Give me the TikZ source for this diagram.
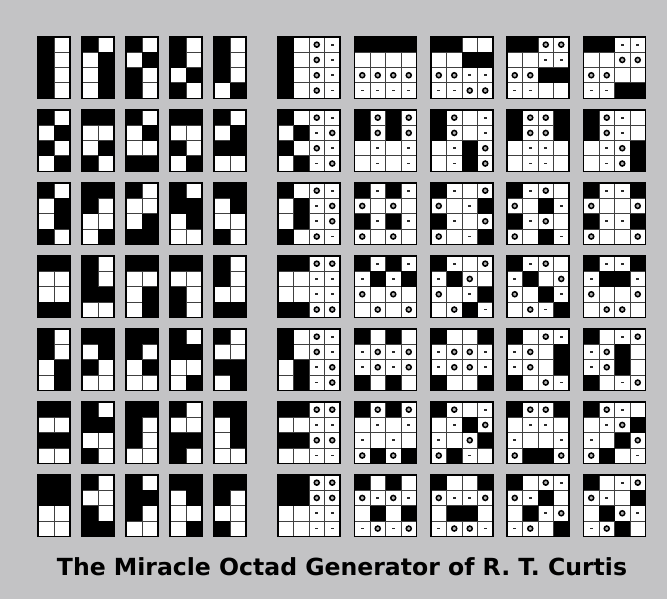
\documentclass[tikz,border=0pt]{standalone}
\usepackage{fontspec}
\usepackage{graphicx}
\newfontfamily\titlefont{DejaVu Sans}
\definecolor{bggray}{HTML}{C3C3C5}
\definecolor{gridgray}{HTML}{404040}
\definecolor{dotgray}{HTML}{2A2A2A}
\tikzset{
  cellblack/.style={fill=black},
  gridline/.style={draw=gridgray, line width=0.8pt},
  patframe/.style={draw=black, line width=1.2pt},
  ring/.style={draw=black, line width=1.5pt, fill=gray!60},
  dotmark/.style={fill=dotgray},
}
\def\mogch{15.3}
\newcommand\mogpat[5]{%
\begin{scope}[shift={(#1,#2)}]
  \fill[white] (0,0) rectangle (#3*#4,4*\mogch);
  \pgfmathtruncatemacro\mogcm{#3-1}
  \foreach \k in {1,...,\mogcm} \draw[gridline] (\k*#4,0) -- (\k*#4,4*\mogch);
  \foreach \k in {1,2,3} \draw[gridline] (0,\k*\mogch) -- (#3*#4,\k*\mogch);
  \foreach \c [count=\i from 0] in {#5} {
    \pgfmathtruncatemacro\mcol{mod(\i,#3)}
    \pgfmathtruncatemacro\mrow{int(\i/#3)}
    \if\c B\fill[cellblack] (\mcol*#4,\mrow*\mogch) rectangle ++(#4,\mogch);\fi
    \if\c O\draw[ring] (\mcol*#4+#4/2,\mrow*\mogch+\mogch/2) circle[radius=2.5pt];\fi
    \if\c d\fill[dotmark] (\mcol*#4+#4/2-1.4,\mrow*\mogch+\mogch/2-0.9) rectangle ++(2.8,1.8);\fi
  }
  \draw[patframe] (0,0) rectangle (#3*#4,4*\mogch);
\end{scope}}
\newcommand\mogL[3]{\mogpat{#1}{#2}{2}{16}{#3}}
\newcommand\mogR[3]{\mogpat{#1}{#2}{4}{15.5}{#3}}
\begin{document}
\begin{tikzpicture}[x=1pt,y=-1pt]
\fill[bggray] (0,0) rectangle (667,599);
\useasboundingbox (0,0) rectangle (667,599);
% ---- row 1
\mogL{38}{37}{B,W,B,W,B,W,B,W}
\mogL{82}{37}{B,W,W,B,W,B,W,B}
\mogL{126}{37}{B,W,W,B,B,W,B,W}
\mogL{170}{37}{B,W,B,W,W,B,B,W}
\mogL{214}{37}{B,W,B,W,B,W,W,B}
\mogR{278}{37}{B,W,O,d, B,W,O,d, B,W,O,d, B,W,O,d}
\mogR{354.5}{37}{B,B,B,B, W,W,W,W, O,O,O,O, d,d,d,d}
\mogR{431}{37}{B,B,W,W, W,W,B,B, O,O,d,d, d,d,O,O}
\mogR{507}{37}{B,B,O,O, W,W,d,d, O,O,B,B, d,d,W,W}
\mogR{583.5}{37}{B,B,d,d, W,W,O,O, O,O,W,W, d,d,B,B}
% ---- row 2
\mogL{38}{110}{B,W,W,B,B,W,W,B}
\mogL{82}{110}{B,B,W,W,W,B,B,W}
\mogL{126}{110}{B,W,W,B,W,W,B,B}
\mogL{170}{110}{B,B,W,W,B,W,W,B}
\mogL{214}{110}{B,W,W,B,B,B,W,W}
\mogR{278}{110}{B,W,O,d, W,B,d,O, B,W,O,d, W,B,d,O}
\mogR{354.5}{110}{B,O,B,O, B,O,B,O, W,d,W,d, W,d,W,d}
\mogR{431}{110}{B,O,W,d, B,O,W,d, W,d,B,O, W,d,B,O}
\mogR{507}{110}{B,O,O,B, B,O,O,B, W,d,d,W, W,d,d,W}
\mogR{583.5}{110}{B,O,d,W, B,O,d,W, W,d,O,B, W,d,O,B}
% ---- row 3
\mogL{38}{183}{B,W,W,B,W,B,B,W}
\mogL{82}{183}{B,B,B,W,W,W,W,B}
\mogL{126}{183}{B,W,W,W,W,B,B,B}
\mogL{170}{183}{B,W,B,B,W,B,W,W}
\mogL{214}{183}{B,B,W,B,W,W,B,W}
\mogR{278}{183}{B,W,O,d, W,B,d,O, W,B,d,O, B,W,O,d}
\mogR{354.5}{183}{B,d,B,d, O,W,O,W, B,d,B,d, O,W,O,W}
\mogR{431}{183}{B,d,W,O, O,W,d,B, B,d,W,O, O,W,d,B}
\mogR{507}{183}{B,d,O,W, O,W,B,d, B,d,O,W, O,W,B,d}
\mogR{583.5}{183}{B,d,d,B, O,W,W,O, B,d,d,B, O,W,W,O}
% ---- row 4
\mogL{38}{256}{B,B,W,W,W,W,B,B}
\mogL{82}{256}{B,W,B,W,B,B,W,W}
\mogL{126}{256}{B,B,W,W,W,B,W,B}
\mogL{170}{256}{B,B,W,W,B,W,B,W}
\mogL{214}{256}{B,W,B,W,W,W,B,B}
\mogR{278}{256}{B,B,O,O, W,W,d,d, W,W,d,d, B,B,O,O}
\mogR{354.5}{256}{B,d,B,d, d,B,d,B, O,W,O,W, W,O,W,O}
\mogR{431}{256}{B,d,W,O, d,B,O,W, O,W,d,B, W,O,B,d}
\mogR{507}{256}{B,d,O,W, d,B,W,O, O,W,B,d, W,O,d,B}
\mogR{583.5}{256}{B,d,d,B, d,B,B,d, O,W,W,O, W,O,O,W}
% ---- row 5
\mogL{38}{329}{B,W,B,W,W,B,W,B}
\mogL{82}{329}{B,B,W,B,B,W,W,W}
\mogL{126}{329}{B,B,B,W,W,B,W,W}
\mogL{170}{329}{B,W,B,B,W,W,W,B}
\mogL{214}{329}{B,W,W,W,B,B,W,B}
\mogR{278}{329}{B,W,O,d, B,W,O,d, W,B,d,O, W,B,d,O}
\mogR{354.5}{329}{B,W,B,W, d,O,d,O, d,O,d,O, B,W,B,W}
\mogR{431}{329}{B,W,W,B, d,O,O,d, d,O,O,d, B,W,W,B}
\mogR{507}{329}{B,W,O,d, d,O,W,B, d,O,W,B, B,W,O,d}
\mogR{583.5}{329}{B,W,d,O, d,O,B,W, d,O,B,W, B,W,d,O}
% ---- row 6
\mogL{38}{402}{B,B,W,W,B,B,W,W}
\mogL{82}{402}{B,W,B,B,W,W,B,W}
\mogL{126}{402}{B,B,B,W,B,W,W,W}
\mogL{170}{402}{B,W,W,W,B,B,B,W}
\mogL{214}{402}{B,B,W,B,W,B,W,W}
\mogR{278}{402}{B,B,O,O, W,W,d,d, B,B,O,O, W,W,d,d}
\mogR{354.5}{402}{B,O,B,O, W,d,W,d, d,W,d,W, O,B,O,B}
\mogR{431}{402}{B,O,W,d, W,d,B,O, d,W,O,B, O,B,d,W}
\mogR{507}{402}{B,O,O,B, W,d,d,W, d,W,W,d, O,B,B,O}
\mogR{583.5}{402}{B,O,d,W, W,d,O,B, d,W,B,O, O,B,W,d}
% ---- row 7
\mogL{38}{475}{B,B,B,B,W,W,W,W}
\mogL{82}{475}{B,W,W,W,B,W,B,B}
\mogL{126}{475}{B,W,B,B,B,W,W,W}
\mogL{170}{475}{B,B,W,B,W,W,W,B}
\mogL{214}{475}{B,B,B,W,W,W,B,W}
\mogR{278}{475}{B,B,O,O, B,B,O,O, W,W,d,d, W,W,d,d}
\mogR{354.5}{475}{B,W,B,W, O,d,O,d, W,B,W,B, d,O,d,O}
\mogR{431}{475}{B,W,W,B, O,d,d,O, W,B,B,W, d,O,O,d}
\mogR{507}{475}{B,W,O,d, O,d,B,W, W,B,d,O, d,O,W,B}
\mogR{583.5}{475}{B,W,d,O, O,d,W,B, W,B,O,d, d,O,B,W}
% ---- title
\node[font=\titlefont\bfseries, text=black, inner sep=0pt] (title) at (342,567)
  {\resizebox{570pt}{!}{The Miracle Octad Generator of R. T. Curtis}};
\end{tikzpicture}
\end{document}
